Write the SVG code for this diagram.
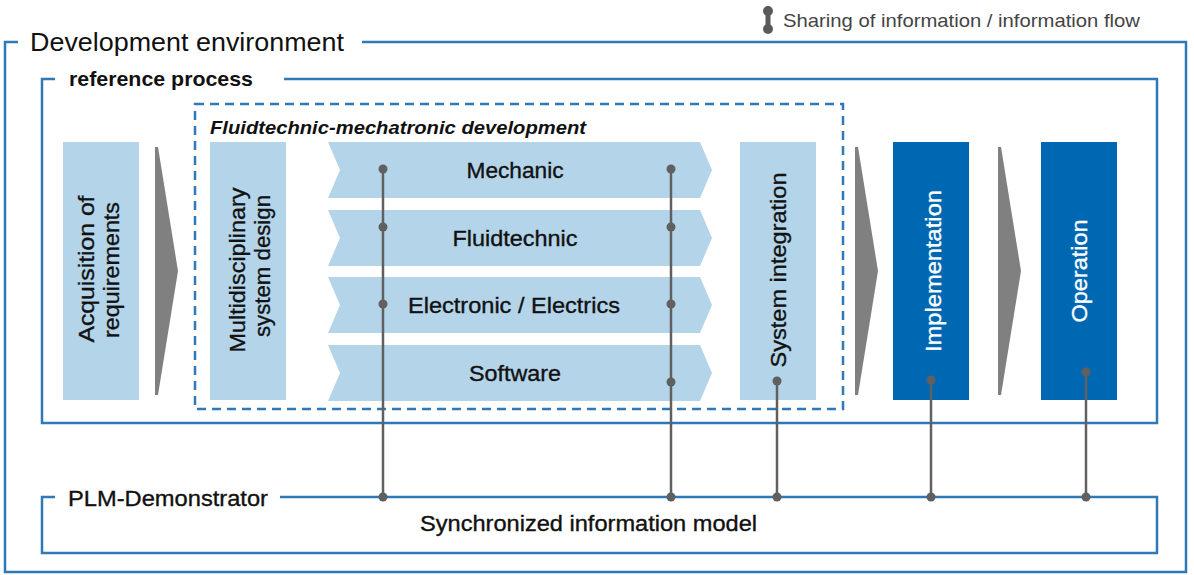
<svg xmlns="http://www.w3.org/2000/svg" width="1194" height="575" viewBox="0 0 1194 575">
<style>
.frame{fill:none;stroke:#2f79b9;stroke-width:2.5}
.dash{fill:none;stroke:#2f79b9;stroke-width:2.5;stroke-dasharray:9 6}
.lb{fill:#b4d4ea}
.db{fill:#0068b3}
.arr{fill:#808080}
.t{font-family:"Liberation Sans",Arial,sans-serif;fill:#111}
.lab{font-family:"Liberation Sans",Arial,sans-serif;font-size:22px;fill:#111;stroke:#111;stroke-width:0.35;text-anchor:middle}
.wl{fill:#fff;stroke:#fff}
.con{stroke:#606060;stroke-width:2.5;fill:none}
.dot{fill:#606060}
</style>
<g id="legend">
  <line x1="768" y1="11" x2="768" y2="29" stroke="#5a5a5a" stroke-width="5"/>
  <circle cx="768" cy="11" r="5" fill="#5a5a5a"/>
  <circle cx="768" cy="29" r="5" fill="#5a5a5a"/>
  <text class="t" x="783" y="27" font-size="19" style="fill:#444" textLength="357" lengthAdjust="spacingAndGlyphs">Sharing of information / information flow</text>
</g>
<g id="development-environment">
  <path class="frame" d="M18,42 H5 V572 H1186 V42 H362"/>
  <text class="t" x="30" y="51" font-size="26" textLength="314" lengthAdjust="spacingAndGlyphs">Development environment</text>
</g>
<g id="reference-process">
  <path class="frame" d="M55,79 H42 V423 H1157 V79 H284"/>
  <text class="t" x="69" y="86" font-size="21" font-weight="bold" textLength="184" lengthAdjust="spacingAndGlyphs">reference process</text>
</g>
<g id="fluidtechnic-mechatronic">
  <rect class="dash" x="195" y="104" width="648" height="305"/>
  <text class="t" x="210" y="134" font-size="18" font-weight="bold" font-style="italic" textLength="376" lengthAdjust="spacingAndGlyphs">Fluidtechnic-mechatronic development</text>
</g>
<g id="plm-demonstrator">
  <path class="frame" d="M55,497 H42 V553 H1157 V497 H280"/>
  <text class="lab" x="168" y="506" textLength="200" lengthAdjust="spacingAndGlyphs">PLM-Demonstrator</text>
  <text class="lab" x="588.5" y="531" textLength="337" lengthAdjust="spacingAndGlyphs">Synchronized information model</text>
</g>
<g id="acquisition">
  <rect class="lb" x="63" y="142" width="76" height="258"/>
  <text class="lab" transform="translate(94,269) rotate(-90)" textLength="147" lengthAdjust="spacingAndGlyphs">Acquisition of</text>
  <text class="lab" transform="translate(119,270) rotate(-90)" textLength="136" lengthAdjust="spacingAndGlyphs">requirements</text>
</g>
<g id="arrow-1"><polygon class="arr" points="155,147 158,147 178,271 158,395 155,395"/></g>
<g id="multidisciplinary">
  <rect class="lb" x="210" y="142" width="76" height="258"/>
  <text class="lab" transform="translate(245,270) rotate(-90)" textLength="165" lengthAdjust="spacingAndGlyphs">Multidisciplinary</text>
  <text class="lab" transform="translate(270,266) rotate(-90)" textLength="142" lengthAdjust="spacingAndGlyphs">system design</text>
</g>
<g id="mechanic">
  <polygon class="lb" points="328,142 700,142 712,170 700,198 328,198 340,170"/>
  <text class="lab" x="515" y="178" textLength="97" lengthAdjust="spacingAndGlyphs">Mechanic</text>
</g>
<g id="fluidtechnic">
  <polygon class="lb" points="328,210 700,210 712,238 700,266 328,266 340,238"/>
  <text class="lab" x="515" y="246" textLength="125" lengthAdjust="spacingAndGlyphs">Fluidtechnic</text>
</g>
<g id="electronic">
  <polygon class="lb" points="328,277 700,277 712,305 700,333 328,333 340,305"/>
  <text class="lab" x="514" y="313" textLength="212" lengthAdjust="spacingAndGlyphs">Electronic / Electrics</text>
</g>
<g id="software">
  <polygon class="lb" points="328,345 700,345 712,373 700,401 328,401 340,373"/>
  <text class="lab" x="515" y="381" textLength="92" lengthAdjust="spacingAndGlyphs">Software</text>
</g>
<g id="system-integration">
  <rect class="lb" x="740" y="142" width="76" height="258"/>
  <text class="lab" transform="translate(786,270) rotate(-90)" textLength="195" lengthAdjust="spacingAndGlyphs">System integration</text>
</g>
<g id="arrow-2"><polygon class="arr" points="855,147 858,147 878,271 858,395 855,395"/></g>
<g id="implementation">
  <rect class="db" x="893" y="142" width="76" height="258"/>
  <text class="lab wl" transform="translate(941,271) rotate(-90)" textLength="162" lengthAdjust="spacingAndGlyphs">Implementation</text>
</g>
<g id="arrow-3"><polygon class="arr" points="998,147 1001,147 1021,271 1001,395 998,395"/></g>
<g id="operation">
  <rect class="db" x="1041" y="142" width="76" height="258"/>
  <text class="lab wl" transform="translate(1087,271) rotate(-90)" textLength="103" lengthAdjust="spacingAndGlyphs">Operation</text>
</g>
<g id="connectors">
  <line class="con" x1="383" y1="169" x2="383" y2="497"/>
  <circle class="dot" cx="383" cy="169" r="4.5"/>
  <circle class="dot" cx="383" cy="227" r="4.5"/>
  <circle class="dot" cx="383" cy="304" r="4.5"/>
  <circle class="dot" cx="383" cy="497" r="4.5"/>
  <line class="con" x1="671" y1="169" x2="671" y2="497"/>
  <circle class="dot" cx="671" cy="169" r="4.5"/>
  <circle class="dot" cx="671" cy="227" r="4.5"/>
  <circle class="dot" cx="671" cy="304" r="4.5"/>
  <circle class="dot" cx="671" cy="382" r="4.5"/>
  <circle class="dot" cx="671" cy="497" r="4.5"/>
  <line class="con" x1="777" y1="381" x2="777" y2="497"/>
  <circle class="dot" cx="777" cy="381" r="4.5"/>
  <circle class="dot" cx="777" cy="497" r="4.5"/>
  <line class="con" x1="931" y1="380" x2="931" y2="497"/>
  <circle class="dot" cx="931" cy="380" r="4.5"/>
  <circle class="dot" cx="931" cy="497" r="4.5"/>
  <line class="con" x1="1086" y1="372" x2="1086" y2="497"/>
  <circle class="dot" cx="1086" cy="372" r="4.5"/>
  <circle class="dot" cx="1086" cy="497" r="4.5"/>
</g>
</svg>
